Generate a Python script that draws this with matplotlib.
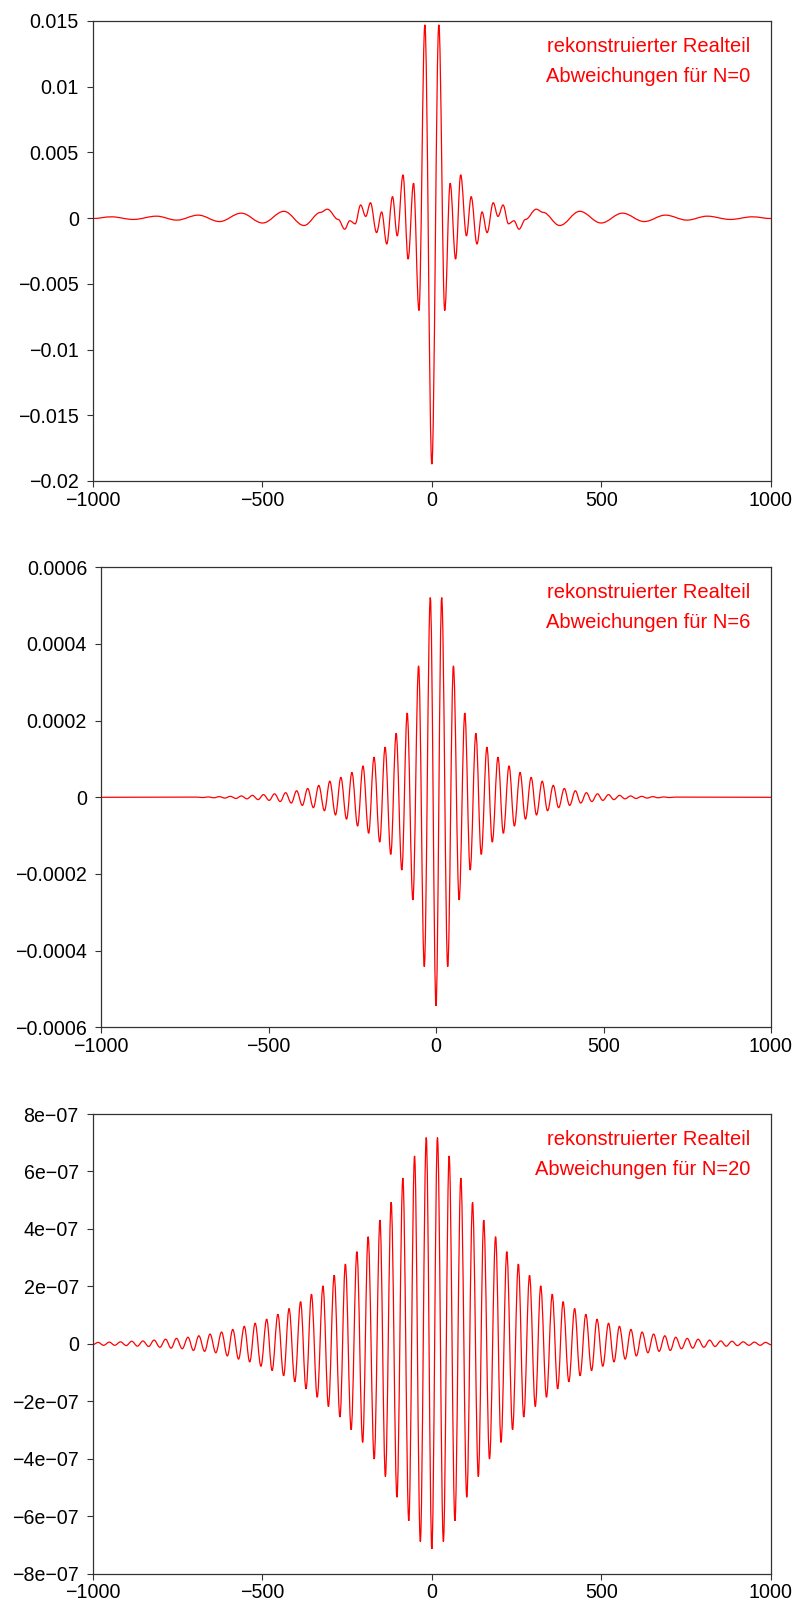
import numpy as np
import matplotlib

matplotlib.use("Agg")
import matplotlib.pyplot as plt
from matplotlib.path import Path
from matplotlib.patches import PathPatch

plt.rcParams["font.family"] = ["Liberation Sans", "DejaVu Sans"]

# N = 0
x_n0 = [
    -1000, -945, -880, -812, -752, -689, -626, -562, -499, -436, -377, -328,
    -308, -276, -257, -242, -226, -210, -195, -181, -163, -148, -133,
    -116, -102, -85, -70, -54, -38, -20.6,
    0,
    20.6, 38, 54, 70, 85, 102, 116, 133, 148, 163, 181, 195, 210, 226, 242,
    257, 276, 308, 328, 377, 436, 499, 562, 626, 689, 752, 812, 880,
    945, 1000,
]
y_n0 = [
    -0.00003, 0.00010, -0.00010, 0.00015, -0.00015, 0.00023, -0.00026,
    0.00038, -0.00037, 0.00052, -0.00056, 0.00044, 0.00068, -0.00010,
    -0.00084, -0.00020, -0.00043, 0.00100, 0.00013, 0.00117, -0.00110,
    0.00047, -0.00197, 0.00164, -0.00135, 0.00330, -0.00312, 0.00266,
    -0.00703, 0.01471,
    -0.01872,
    0.01471, -0.00703, 0.00266, -0.00312, 0.00330, -0.00135, 0.00164,
    -0.00197, 0.00047, -0.00110, 0.00117, 0.00013, 0.00100, -0.00043,
    -0.00020, -0.00084, -0.00010, 0.00068, 0.00044, -0.00056, 0.00052,
    -0.00037, 0.00038, -0.00026, 0.00023, -0.00015, 0.00015, -0.00010,
    0.00010, -0.00003,
]

# N = 6 (values in units of 1e-4)
x_n6 = [
    -1000, -713, -696, -680, -663, -647, -630, -614, -597, -581, -564, -548,
    -531, -515, -498, -482, -465, -449, -432, -416, -399, -383, -366, -350,
    -333, -317, -300, -284, -267, -251, -234, -218, -201, -185, -168, -152,
    -135, -119, -102, -86, -69, -52, -35, -17,
    0,
    17, 35, 52, 69, 86, 102, 119, 135, 152, 168, 185, 201, 218, 234, 251,
    267, 284, 300, 317, 333, 350, 366, 383, 399, 416, 432, 449, 465, 482,
    498, 515, 531, 548, 564, 581, 597, 614, 630, 647, 663, 680, 696, 713,
    1000,
]
y_n6 = [
    0, 0.005, -0.007, 0.01, -0.012, 0.017, -0.02, 0.025, -0.03, 0.035,
    -0.04, 0.05, -0.06, 0.07, -0.08, 0.09, -0.11, 0.12, -0.15, 0.17,
    -0.21, 0.23, -0.27, 0.31, -0.35, 0.42, -0.46, 0.52, -0.57, 0.65,
    -0.75, 0.82, -0.94, 1.05, -1.17, 1.31, -1.49, 1.67, -1.90, 2.20,
    -2.68, 3.43, -4.42, 5.21,
    -5.44,
    5.21, -4.42, 3.43, -2.68, 2.20, -1.90, 1.67, -1.49, 1.31, -1.17,
    1.05, -0.94, 0.82, -0.75, 0.65, -0.57, 0.52, -0.46, 0.42, -0.35,
    0.31, -0.27, 0.23, -0.21, 0.17, -0.15, 0.12, -0.11, 0.09, -0.08,
    0.07, -0.06, 0.05, -0.04, 0.035, -0.03, 0.025, -0.02, 0.017, -0.012,
    0.01, -0.007, 0.005, 0,
]

# N = 20 (values in units of 1e-7)
x_n20 = [
    -1000, -984, -968, -951, -935, -918, -901, -885, -868, -852, -835, -819,
    -802, -785, -769, -753, -736, -719, -703, -687, -670, -654, -637, -620,
    -603, -587, -570, -553, -537, -521, -504, -487, -471, -454, -437, -421,
    -404, -387, -371, -355, -338, -321, -305, -288, -271, -255, -238, -221,
    -204, -188, -170, -153, -137, -120, -103, -85.5, -68, -51, -34, -16.5,
    0,
    16.5, 34, 51, 68, 85.5, 103, 120, 137, 153, 170, 188, 204, 221, 238,
    255, 271, 288, 305, 321, 338, 355, 371, 387, 404, 421, 437, 454, 471,
    487, 504, 521, 537, 553, 570, 587, 603, 620, 637, 654, 670, 687, 703,
    719, 736, 753, 769, 785, 802, 819, 835, 852, 868, 885, 901, 918, 935,
    951, 968, 984, 1000,
]
y_n20 = [
    -0.03, 0.05, -0.05, 0.06, -0.05, 0.07, -0.06, 0.09, -0.08, 0.10,
    -0.09, 0.13, -0.12, 0.16, -0.15, 0.19, -0.17, 0.23, -0.23, 0.28,
    -0.26, 0.34, -0.31, 0.41, -0.42, 0.50, -0.53, 0.61, -0.63, 0.72,
    -0.78, 0.86, -0.93, 1.03, -1.11, 1.23, -1.32, 1.47, -1.57, 1.73,
    -1.86, 2.02, -2.18, 2.39, -2.55, 2.78, -2.99, 3.21, -3.43, 3.73,
    -4.01, 4.31, -4.62, 4.93, -5.34, 5.77, -6.16, 6.54, -6.88, 7.18,
    -7.14,
    7.18, -6.88, 6.54, -6.16, 5.77, -5.34, 4.93, -4.62, 4.31, -4.01,
    3.73, -3.43, 3.21, -2.99, 2.78, -2.55, 2.39, -2.18, 2.02, -1.86,
    1.73, -1.57, 1.47, -1.32, 1.23, -1.11, 1.03, -0.93, 0.86, -0.78,
    0.72, -0.63, 0.61, -0.53, 0.50, -0.42, 0.41, -0.31, 0.34, -0.26,
    0.28, -0.23, 0.23, -0.17, 0.19, -0.15, 0.16, -0.12, 0.13, -0.09,
    0.10, -0.08, 0.09, -0.06, 0.07, -0.05, 0.06, -0.05, 0.05, -0.03,
]

x_ticks = [-1000, -500, 0, 500, 1000]
x_tick_labels = ["\u22121000", "\u2212500", "0", "500", "1000"]

y_ticks_n0 = [0.015, 0.01, 0.005, 0, -0.005, -0.01, -0.015, -0.02]
y_labels_n0 = ["0.015", "0.01", "0.005", "0", "\u22120.005", "\u22120.01",
               "\u22120.015", "\u22120.02"]
y_ticks_n6 = [0.0006, 0.0004, 0.0002, 0, -0.0002, -0.0004, -0.0006]
y_labels_n6 = ["0.0006", "0.0004", "0.0002", "0", "\u22120.0002",
               "\u22120.0004", "\u22120.0006"]
y_ticks_n20 = [8e-7, 6e-7, 4e-7, 2e-7, 0, -2e-7, -4e-7, -6e-7, -8e-7]
y_labels_n20 = ["8e\u221207", "6e\u221207", "4e\u221207", "2e\u221207", "0",
                "\u22122e\u221207", "\u22124e\u221207", "\u22126e\u221207",
                "\u22128e\u221207"]

titles = ["Abweichungen f\u00fcr N=0", "Abweichungen f\u00fcr N=6",
          "Abweichungen f\u00fcr N=20"]

W, H = 798, 1604
FS = 14.1
FS_LABEL = 14.5
SPINE = "#333333"


def extrema_path(x, y, k=0.364):
    # cubic segments between neighbouring extrema, flat at every extremum
    verts = [(x[0], y[0])]
    codes = [Path.MOVETO]
    for i in range(len(x) - 1):
        dx = x[i + 1] - x[i]
        verts += [(x[i] + k * dx, y[i]), (x[i + 1] - k * dx, y[i + 1]),
                  (x[i + 1], y[i + 1])]
        codes += [Path.CURVE4] * 3
    return Path(verts, codes)


def panel(fig, box, x, y, yticks, ylabels, label):
    left, top, right, bottom = box
    ax = fig.add_axes([left / W, 1 - bottom / H, (right - left) / W,
                       (bottom - top) / H])
    ax.add_patch(PathPatch(extrema_path(x, y), fill=False, edgecolor="red",
                           linewidth=0.9))
    ax.set_xlim(-1000, 1000)
    ax.set_ylim(yticks[-1], yticks[0])
    ax.set_xticks(x_ticks)
    ax.set_xticklabels(x_tick_labels)
    ax.set_yticks(yticks)
    ax.set_yticklabels(ylabels)
    ax.tick_params(direction="out", length=4.5, width=0.8, color=SPINE,
                   labelsize=FS, top=False, right=False)
    ax.tick_params(axis="x", pad=2.5)
    ax.tick_params(axis="y", pad=5.5)
    for s in ax.spines.values():
        s.set_color(SPINE)
        s.set_linewidth(0.9)
    xr = 1 - 21 / (right - left)
    ax.text(xr, 1 - 31 / (bottom - top), "rekonstruierter Realteil",
            transform=ax.transAxes, ha="right", va="baseline",
            color="red", fontsize=FS_LABEL)
    ax.text(xr, 1 - 61 / (bottom - top), label,
            transform=ax.transAxes, ha="right", va="baseline",
            color="red", fontsize=FS_LABEL)
    return ax


fig = plt.figure(figsize=(W / 100, H / 100), dpi=100)

panel(fig, (92.7, 21, 771, 481), x_n0, y_n0, y_ticks_n0, y_labels_n0,
      titles[0])
panel(fig, (101, 567.3, 771, 1027.3), x_n6, np.array(y_n6) * 1e-4,
      y_ticks_n6, y_labels_n6, titles[1])
panel(fig, (92.7, 1114, 771, 1573.7), x_n20, np.array(y_n20) * 1e-7,
      y_ticks_n20, y_labels_n20, titles[2])

fig.savefig("out.png", dpi=100)
